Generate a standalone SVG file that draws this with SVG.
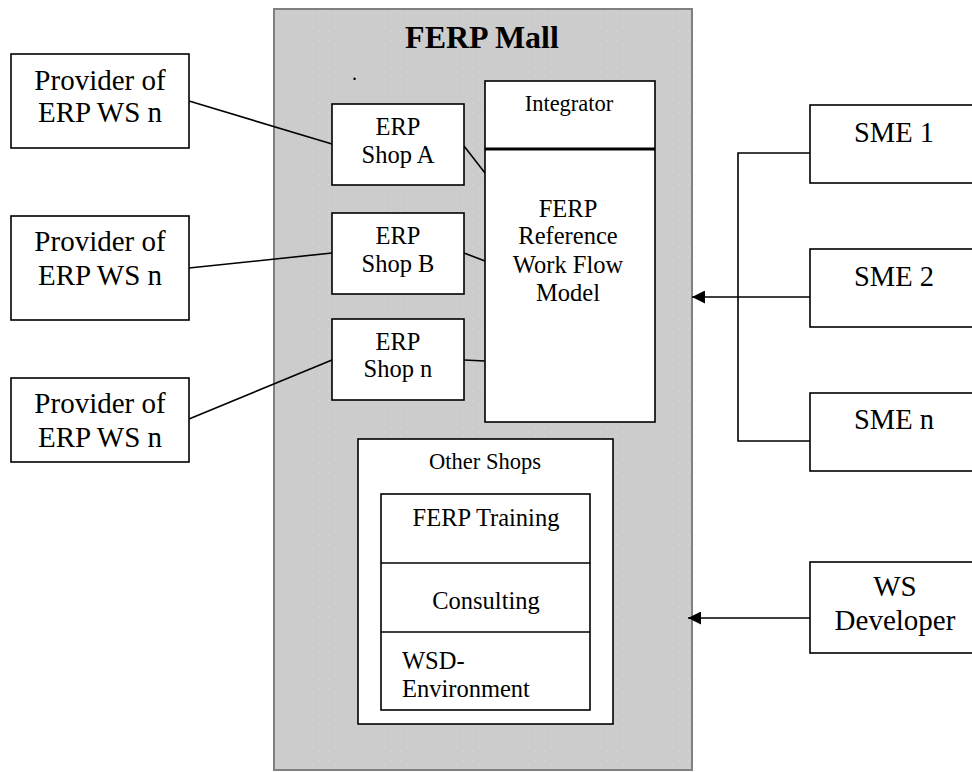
<svg xmlns="http://www.w3.org/2000/svg" width="972" height="772" viewBox="0 0 972 772">
<defs>
<pattern id="dots" x="0" y="0" width="9" height="9" patternUnits="userSpaceOnUse">
<rect width="9" height="9" fill="#cccccc"/>
<rect x="4" y="4" width="1" height="1" fill="#dedede"/>
</pattern>
<marker id="arr" viewBox="0 0 10 10" refX="10" refY="5" markerWidth="15" markerHeight="13" markerUnits="userSpaceOnUse" orient="auto">
<path d="M0,0 L10,5 L0,10 z" fill="#000"/>
</marker>
<style>
.box{fill:#fff;stroke:#000;stroke-width:1.6}
.t{font-family:"Liberation Serif","Times New Roman",serif;fill:#000}
.c{text-anchor:middle}
.ln{fill:none;stroke:#000;stroke-width:1.6}
.m{font-size:24.5px}
</style>
</defs>
<rect width="972" height="772" fill="#fff"/>

<g id="mall">
<rect x="274" y="9" width="418" height="761" fill="url(#dots)" stroke="#808080" stroke-width="2"/>
<text class="t c" x="482" y="48" font-size="32" font-weight="bold">FERP Mall</text>
<text class="t" x="352" y="80" font-size="20">.</text>
</g>

<g id="connectors">
<line class="ln" x1="189" y1="101" x2="332" y2="144"/>
<line class="ln" x1="189" y1="268" x2="332" y2="253"/>
<line class="ln" x1="189" y1="419" x2="332" y2="360"/>
<line class="ln" x1="464" y1="146" x2="485" y2="173"/>
<line class="ln" x1="464" y1="253" x2="485" y2="261"/>
<line class="ln" x1="464" y1="360" x2="485" y2="361"/>
<polyline class="ln" points="810,153 738,153 738,441 810,441"/>
<line class="ln" x1="810" y1="297" x2="692" y2="297" marker-end="url(#arr)"/>
<line class="ln" x1="810" y1="618" x2="688" y2="618" marker-end="url(#arr)"/>
</g>

<g id="provider1">
<rect class="box" x="11" y="54" width="178" height="94"/>
<text class="t c" x="100" y="90" font-size="29">Provider of</text>
<text class="t c" x="100" y="122" font-size="29">ERP WS n</text>
</g>
<g id="provider2">
<rect class="box" x="11" y="216" width="178" height="104"/>
<text class="t c" x="100" y="251" font-size="29">Provider of</text>
<text class="t c" x="100" y="285" font-size="29">ERP WS n</text>
</g>
<g id="provider3">
<rect class="box" x="11" y="378" width="178" height="84"/>
<text class="t c" x="100" y="413" font-size="29">Provider of</text>
<text class="t c" x="100" y="447" font-size="29">ERP WS n</text>
</g>

<g id="shopA">
<rect class="box" x="332" y="104" width="132" height="81"/>
<text class="t c m" x="398" y="135">ERP</text>
<text class="t c m" x="398" y="163">Shop A</text>
</g>
<g id="shopB">
<rect class="box" x="332" y="213" width="132" height="81"/>
<text class="t c m" x="398" y="244">ERP</text>
<text class="t c m" x="398" y="272">Shop B</text>
</g>
<g id="shopN">
<rect class="box" x="332" y="319" width="132" height="81"/>
<text class="t c m" x="398" y="350">ERP</text>
<text class="t c m" x="398" y="377">Shop n</text>
</g>

<g id="integrator">
<rect class="box" x="485" y="81" width="170" height="341"/>
<line x1="485" y1="149" x2="655" y2="149" stroke="#000" stroke-width="3"/>
<text class="t c" x="569" y="111" font-size="22.5">Integrator</text>
<text class="t c m" x="568" y="217">FERP</text>
<text class="t c m" x="568" y="244">Reference</text>
<text class="t c m" x="568" y="273">Work Flow</text>
<text class="t c m" x="568" y="301">Model</text>
</g>

<g id="otherShops">
<rect class="box" x="358" y="439" width="255" height="285"/>
<text class="t c" x="485" y="469" font-size="22.5">Other Shops</text>
<rect class="box" x="381" y="494" width="209" height="216"/>
<line class="ln" x1="381" y1="563" x2="590" y2="563"/>
<line class="ln" x1="381" y1="632" x2="590" y2="632"/>
<text class="t c m" x="486" y="526">FERP Training</text>
<text class="t c m" x="486" y="609">Consulting</text>
<text class="t m" x="402" y="669">WSD-</text>
<text class="t m" x="402" y="697">Environment</text>
</g>

<g id="sme1">
<rect class="box" x="810" y="105" width="180" height="78"/>
<text class="t" x="854" y="142" font-size="28.5">SME 1</text>
</g>
<g id="sme2">
<rect class="box" x="810" y="249" width="180" height="78"/>
<text class="t" x="854" y="286" font-size="28.5">SME 2</text>
</g>
<g id="smeN">
<rect class="box" x="810" y="393" width="180" height="78"/>
<text class="t" x="854" y="429" font-size="28.5">SME n</text>
</g>
<g id="wsDeveloper">
<rect class="box" x="810" y="562" width="180" height="91"/>
<text class="t c" x="895" y="596" font-size="29">WS</text>
<text class="t c" x="895" y="630" font-size="29">Developer</text>
</g>
</svg>
